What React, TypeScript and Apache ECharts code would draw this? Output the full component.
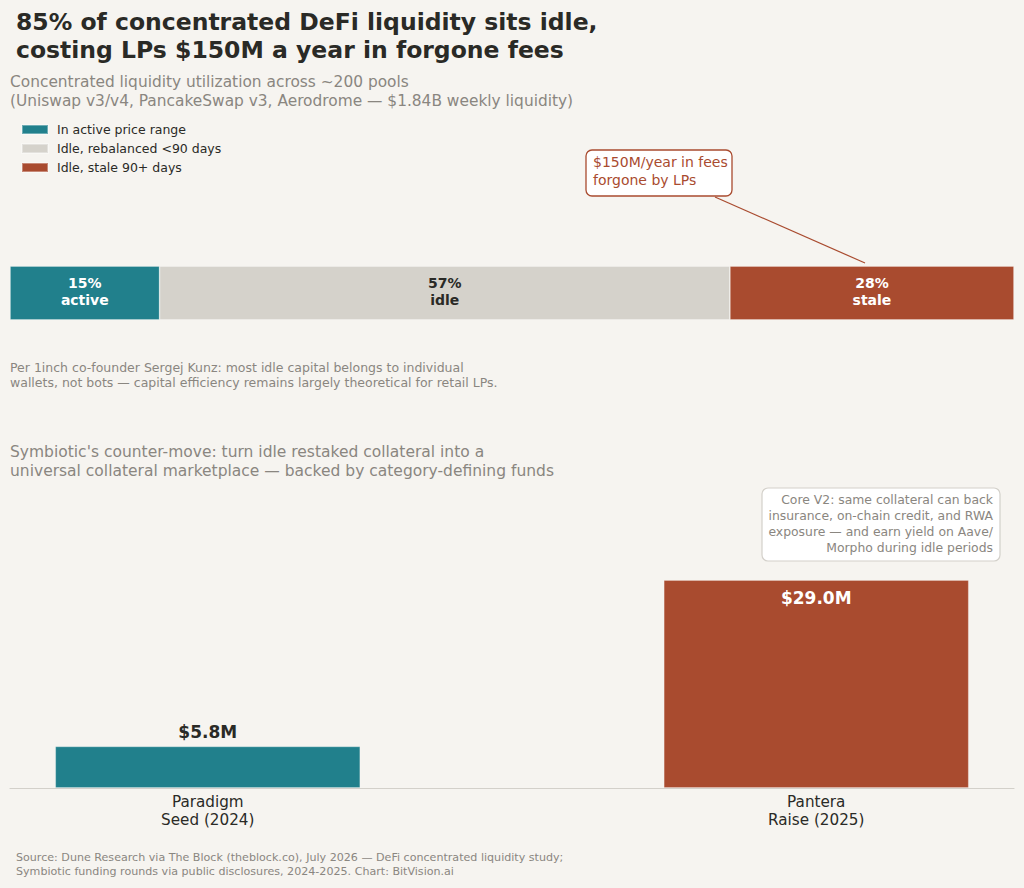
import React, { useEffect, useRef } from "react";
import * as echarts from "echarts";

const shareNames = ["In active price range", "Idle, rebalanced <90 days", "Idle, stale 90+ days"];
const shareValues = [14.9, 56.8, 28.3];
const shareTags = ["active", "idle", "stale"];
const shareColors = ["#21808c", "#d5d2cb", "#a94b2f"];
const shareLabelColors = ["#ffffff", "#2a2a26", "#ffffff"];

const raiseCategories = ["Paradigm\nSeed (2024)", "Pantera\nRaise (2025)"];
const raiseValues = [5.8, 29.0];
const raiseColors = ["#21808c", "#a94b2f"];

const FONT = "DejaVu Sans";
const BG = "#f6f4f0";
const GREY = "#8a8680";
const DARK = "#2a2a26";

export default function App() {
  const ref = useRef<HTMLDivElement>(null);
  useEffect(() => {
    if (!ref.current) return;
    const chart = echarts.init(ref.current, null, { renderer: "svg" });
    const option: any = {
      animation: false,
      backgroundColor: BG,
      textStyle: { fontFamily: FONT },
      title: [
        {
          text: "85% of concentrated DeFi liquidity sits idle,\ncosting LPs $150M a year in forgone fees",
          left: 16, top: 8, padding: 0,
          textStyle: { fontFamily: FONT, fontSize: 23.5, fontWeight: "bold", color: DARK, lineHeight: 28 },
        },
        {
          text: "Concentrated liquidity utilization across ~200 pools\n(Uniswap v3/v4, PancakeSwap v3, Aerodrome — $1.84B weekly liquidity)",
          left: 10, top: 72, padding: 0,
          textStyle: { fontFamily: FONT, fontSize: 15.4, fontWeight: "normal", color: GREY, lineHeight: 19 },
        },
        {
          text: "Per 1inch co-founder Sergej Kunz: most idle capital belongs to individual\nwallets, not bots — capital efficiency remains largely theoretical for retail LPs.",
          left: 10, top: 360, padding: 0,
          textStyle: { fontFamily: FONT, fontSize: 12.5, fontWeight: "normal", color: GREY, lineHeight: 15 },
        },
        {
          text: "Symbiotic's counter-move: turn idle restaked collateral into a\nuniversal collateral marketplace — backed by category-defining funds",
          left: 10, top: 442, padding: 0,
          textStyle: { fontFamily: FONT, fontSize: 15.5, fontWeight: "normal", color: GREY, lineHeight: 19 },
        },
        {
          text: "Source: Dune Research via The Block (theblock.co), July 2026 — DeFi concentrated liquidity study;\nSymbiotic funding rounds via public disclosures, 2024-2025. Chart: BitVision.ai",
          left: 16, top: 850, padding: 0,
          textStyle: { fontFamily: FONT, fontSize: 11.1, fontWeight: "normal", color: GREY, lineHeight: 14 },
        },
      ],
      legend: {
        data: shareNames,
        orient: "vertical",
        left: 21,
        top: 122,
        padding: 0,
        icon: "rect",
        itemWidth: 26,
        itemHeight: 9,
        itemGap: 4,
        textStyle: { fontFamily: FONT, fontSize: 12.5, color: DARK, padding: [0, 0, 0, 4], lineHeight: 15 },
        selectedMode: false,
      },
      grid: [
        { left: 10, right: 10, top: 266, height: 54 },
        { left: 10, right: 10, top: 537, height: 251 },
      ],
      xAxis: [
        { type: "value", gridIndex: 0, min: 0, max: 100, show: false },
        {
          type: "value", gridIndex: 1, min: -0.325, max: 1.325,
          splitLine: { show: false },
          axisTick: { show: false },
          axisLine: { show: true, lineStyle: { color: "#d3d0ca", width: 1.2 } },
          axisLabel: {
            customValues: [0, 1],
            formatter: (v: number) => raiseCategories[Math.round(v)],
            fontFamily: FONT, fontSize: 15.2, color: DARK, lineHeight: 18, margin: 5,
          },
        },
      ],
      yAxis: [
        { type: "category", gridIndex: 0, data: ["utilization"], show: false },
        { type: "value", gridIndex: 1, min: 0, max: 35, show: false },
      ],
      series: [
        ...shareNames.map((name, i) => ({
          name,
          type: "bar",
          stack: "util",
          xAxisIndex: 0,
          yAxisIndex: 0,
          barWidth: 54,
          itemStyle: { color: shareColors[i], borderColor: "rgba(255,255,255,0.35)", borderWidth: 0.8 },
          label: {
            show: true,
            position: "inside",
            offset: [0, -1.5],
            formatter: () => `${Math.round(shareValues[i])}%\n${shareTags[i]}`,
            fontFamily: FONT, fontSize: 14, fontWeight: "bold", lineHeight: 17,
            color: shareLabelColors[i],
          },
          data: [shareValues[i]],
        })),
        {
          name: "Raises",
          type: "bar",
          xAxisIndex: 1,
          yAxisIndex: 1,
          barWidth: 305,
          data: raiseValues.map((v, i) => ({
            value: [i, v],
            itemStyle: { color: raiseColors[i], borderColor: "rgba(255,255,255,0.3)", borderWidth: 0.8 },
            label: i === 0
              ? { show: true, position: "top", distance: 6, color: DARK }
              : { show: true, position: "insideTop", distance: 9, color: "#ffffff" },
          })),
          label: {
            show: true,
            formatter: (p: any) => `$${p.value[1].toFixed(1)}M`,
            fontFamily: FONT, fontSize: 17, fontWeight: "bold",
          },
        },
      ],
      graphic: [
        {
          type: "line",
          shape: { x1: 715, y1: 197, x2: 865, y2: 263 },
          style: { stroke: "#a94b2f", lineWidth: 1.2 },
        },
        {
          type: "rect",
          shape: { x: 586, y: 150, width: 146, height: 46, r: 6 },
          style: { fill: "#ffffff", stroke: "#a94b2f", lineWidth: 1.3 },
        },
        {
          type: "text",
          x: 593, y: 153,
          style: {
            text: "$150M/year in fees\nforgone by LPs",
            fontFamily: FONT, fontSize: 14, lineHeight: 18, fill: "#a94b2f",
          },
        },
        {
          type: "rect",
          shape: { x: 762, y: 488, width: 238, height: 73, r: 6 },
          style: { fill: "#ffffff", stroke: "#d3d0ca", lineWidth: 1.2 },
        },
        {
          type: "text",
          x: 993, y: 491,
          style: {
            text: "Core V2: same collateral can back\ninsurance, on-chain credit, and RWA\nexposure — and earn yield on Aave/\nMorpho during idle periods",
            fontFamily: FONT, fontSize: 12.4, lineHeight: 16, fill: GREY, align: "right",
          },
        },
      ],
    };
    chart.setOption(option);
    return () => chart.dispose();
  }, []);
  return (
    <div
      ref={ref}
      style={{ position: "absolute", left: 0, top: 0, width: 1024, height: 888 }}
    />
  );
}
